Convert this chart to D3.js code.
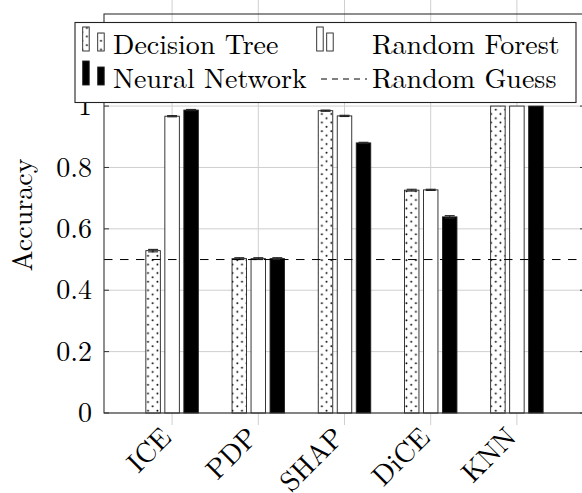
<!DOCTYPE html>
<html>
<head>
<meta charset="utf-8">
<script src="https://cdn.jsdelivr.net/npm/d3@7"></script>
<style>
  html, body { margin: 0; padding: 0; background: #fff; }
  svg { display: block; }
</style>
</head>
<body>
<svg id="chart" width="582" height="493"></svg>
<script>
// Explanation methods on the x axis
const categories = ["ICE", "PDP", "SHAP", "DiCE", "KNN"];
// Models, one bar each per method
const seriesNames = ["Decision Tree", "Random Forest", "Neural Network"];
// Mean accuracy per model
const decisionTree = [0.529, 0.503, 0.985, 0.726, 1.0];
const randomForest = [0.967, 0.503, 0.968, 0.727, 1.0];
const neuralNetwork = [0.987, 0.503, 0.880, 0.639, 1.0];
// Error (half width) per model
const decisionTreeErr = [0.004, 0.003, 0.002, 0.003, 0.0];
const randomForestErr = [0.002, 0.003, 0.002, 0.002, 0.0];
const neuralNetworkErr = [0.002, 0.003, 0.002, 0.004, 0.0];
// Chance level
const randomGuess = 0.5;
// Y tick values
const yTicks = [0, 0.2, 0.4, 0.6, 0.8, 1];

const seriesValues = [decisionTree, randomForest, neuralNetwork];
const seriesErrors = [decisionTreeErr, randomForestErr, neuralNetworkErr];

const FONT = "'Latin Modern Roman', 'Liberation Serif', serif";
const FS = 28;

const svg = d3.select("#chart");
const plot = { left: 104, right: 585, top: 14, bottom: 413 };

const x = d3.scalePoint().domain(categories).range([plot.left, plot.right]).padding(0.79);
const inner = d3.scaleBand().domain(seriesNames).range([-26.25, 26.25])
  .paddingInner(4.5 / 19).paddingOuter(0);
const y = d3.scaleLinear().domain([0, 1.3]).range([plot.bottom, plot.top]);

// dotted fill for the decision tree bars
const defs = svg.append("defs");
const pat = defs.append("pattern").attr("id", "dots")
  .attr("patternUnits", "userSpaceOnUse").attr("width", 9.4).attr("height", 8.6);
pat.append("rect").attr("width", 9.4).attr("height", 8.6).attr("fill", "#fff");
pat.append("circle").attr("cx", 2.3).attr("cy", 2.1).attr("r", 0.95).attr("fill", "#000");
pat.append("circle").attr("cx", 7.0).attr("cy", 6.4).attr("r", 0.95).attr("fill", "#000");

const fills = ["url(#dots)", "#fff", "#000"];
const gridColor = "#cfcfcf";

// horizontal grid
svg.append("g").selectAll("line").data(yTicks).join("line")
  .attr("x1", plot.left).attr("x2", plot.right)
  .attr("y1", d => y(d)).attr("y2", d => y(d))
  .attr("stroke", gridColor).attr("stroke-width", 1);

// vertical grid with outward ticks above and below
svg.append("g").selectAll("line").data(categories).join("line")
  .attr("x1", d => x(d)).attr("x2", d => x(d))
  .attr("y1", 0).attr("y2", plot.bottom + 12)
  .attr("stroke", gridColor).attr("stroke-width", 1);

// bars
const bars = svg.append("g");
seriesNames.forEach((s, si) => {
  bars.append("g").selectAll("rect").data(categories).join("rect")
    .attr("x", d => x(d) + inner(s))
    .attr("width", inner.bandwidth())
    .attr("y", (d, i) => y(seriesValues[si][i]))
    .attr("height", (d, i) => y(0) - y(seriesValues[si][i]))
    .attr("fill", fills[si])
    .attr("stroke", "#222").attr("stroke-width", 0.9);
});

// error bars
const errs = svg.append("g").attr("stroke", "#222").attr("stroke-width", 1.1);
seriesNames.forEach((s, si) => {
  categories.forEach((c, i) => {
    const e = seriesErrors[si][i];
    if (e <= 0) return;
    const cx = x(c) + inner(s) + inner.bandwidth() / 2;
    const v = seriesValues[si][i];
    errs.append("line").attr("x1", cx).attr("x2", cx)
      .attr("y1", y(v - e)).attr("y2", y(v + e));
    [v - e, v + e].forEach(t => {
      errs.append("line").attr("x1", cx - 5).attr("x2", cx + 5)
        .attr("y1", y(t)).attr("y2", y(t));
    });
  });
});

// chance level
svg.append("line")
  .attr("x1", plot.left).attr("x2", plot.right)
  .attr("y1", y(randomGuess)).attr("y2", y(randomGuess))
  .attr("stroke", "#000").attr("stroke-width", 1)
  .attr("stroke-dasharray", "8.5,7.5");

// frame
svg.append("rect")
  .attr("x", plot.left).attr("y", plot.top)
  .attr("width", plot.right - plot.left).attr("height", plot.bottom - plot.top)
  .attr("fill", "none").attr("stroke", "#333").attr("stroke-width", 1.1);

// y ticks inside on both sides
svg.append("g").selectAll("line").data(yTicks).join("line")
  .attr("x1", plot.left).attr("x2", plot.left + 5)
  .attr("y1", d => y(d)).attr("y2", d => y(d))
  .attr("stroke", "#333").attr("stroke-width", 1);
svg.append("g").selectAll("line").data(yTicks).join("line")
  .attr("x1", plot.right - 5).attr("x2", plot.right)
  .attr("y1", d => y(d)).attr("y2", d => y(d))
  .attr("stroke", "#333").attr("stroke-width", 1);

// y tick labels
svg.append("g").selectAll("text").data(yTicks).join("text")
  .attr("font-family", FONT)
  .attr("x", 92).attr("y", d => y(d)).attr("dy", "0.33em")
  .attr("text-anchor", "end").attr("font-size", FS)
  .text(d => d3.format("~g")(d));

// y axis title
svg.append("text")
  .attr("font-family", FONT)
  .attr("transform", `translate(32,215) rotate(-90)`)
  .attr("text-anchor", "middle").attr("font-size", FS)
  .text("Accuracy");

// x tick labels, rotated
svg.append("g").selectAll("text").data(categories).join("text")
  .attr("font-family", FONT)
  .attr("transform", d => `translate(${x(d) + 1},${plot.bottom + 26}) rotate(-45)`)
  .attr("text-anchor", "end").attr("font-size", FS)
  .text(d => d);

// legend
const lg = svg.append("g");
lg.append("rect").attr("x", 75).attr("y", 22.5).attr("width", 501).attr("height", 80)
  .attr("fill", "#fff").attr("stroke", "#222").attr("stroke-width", 1.1);

const legendRows = [
  { name: seriesNames[0], si: 0, sx: 82.7, tx: 113, base: 54 },
  { name: seriesNames[1], si: 1, sx: 316.7, tx: 372, base: 54 },
  { name: seriesNames[2], si: 2, sx: 82.7, tx: 113, base: 88 }
];
legendRows.forEach(r => {
  const gap = r.si === 1 ? 10 : 15;
  lg.append("rect").attr("x", r.sx).attr("y", r.base - 27).attr("width", 6.5).attr("height", 24)
    .attr("fill", fills[r.si]).attr("stroke", "#222").attr("stroke-width", 0.9);
  lg.append("rect").attr("x", r.sx + gap).attr("y", r.base - 21).attr("width", 6.5).attr("height", 18)
    .attr("fill", fills[r.si]).attr("stroke", "#222").attr("stroke-width", 0.9);
  lg.append("text").attr("font-family", FONT)
    .attr("x", r.tx).attr("y", r.base).attr("font-size", FS).text(r.name);
});
lg.append("line").attr("x1", 321).attr("x2", 367).attr("y1", 79).attr("y2", 79)
  .attr("stroke", "#000").attr("stroke-width", 1).attr("stroke-dasharray", "6,5");
lg.append("text").attr("font-family", FONT)
  .attr("x", 372).attr("y", 88).attr("font-size", FS).text("Random Guess");
</script>
</body>
</html>
